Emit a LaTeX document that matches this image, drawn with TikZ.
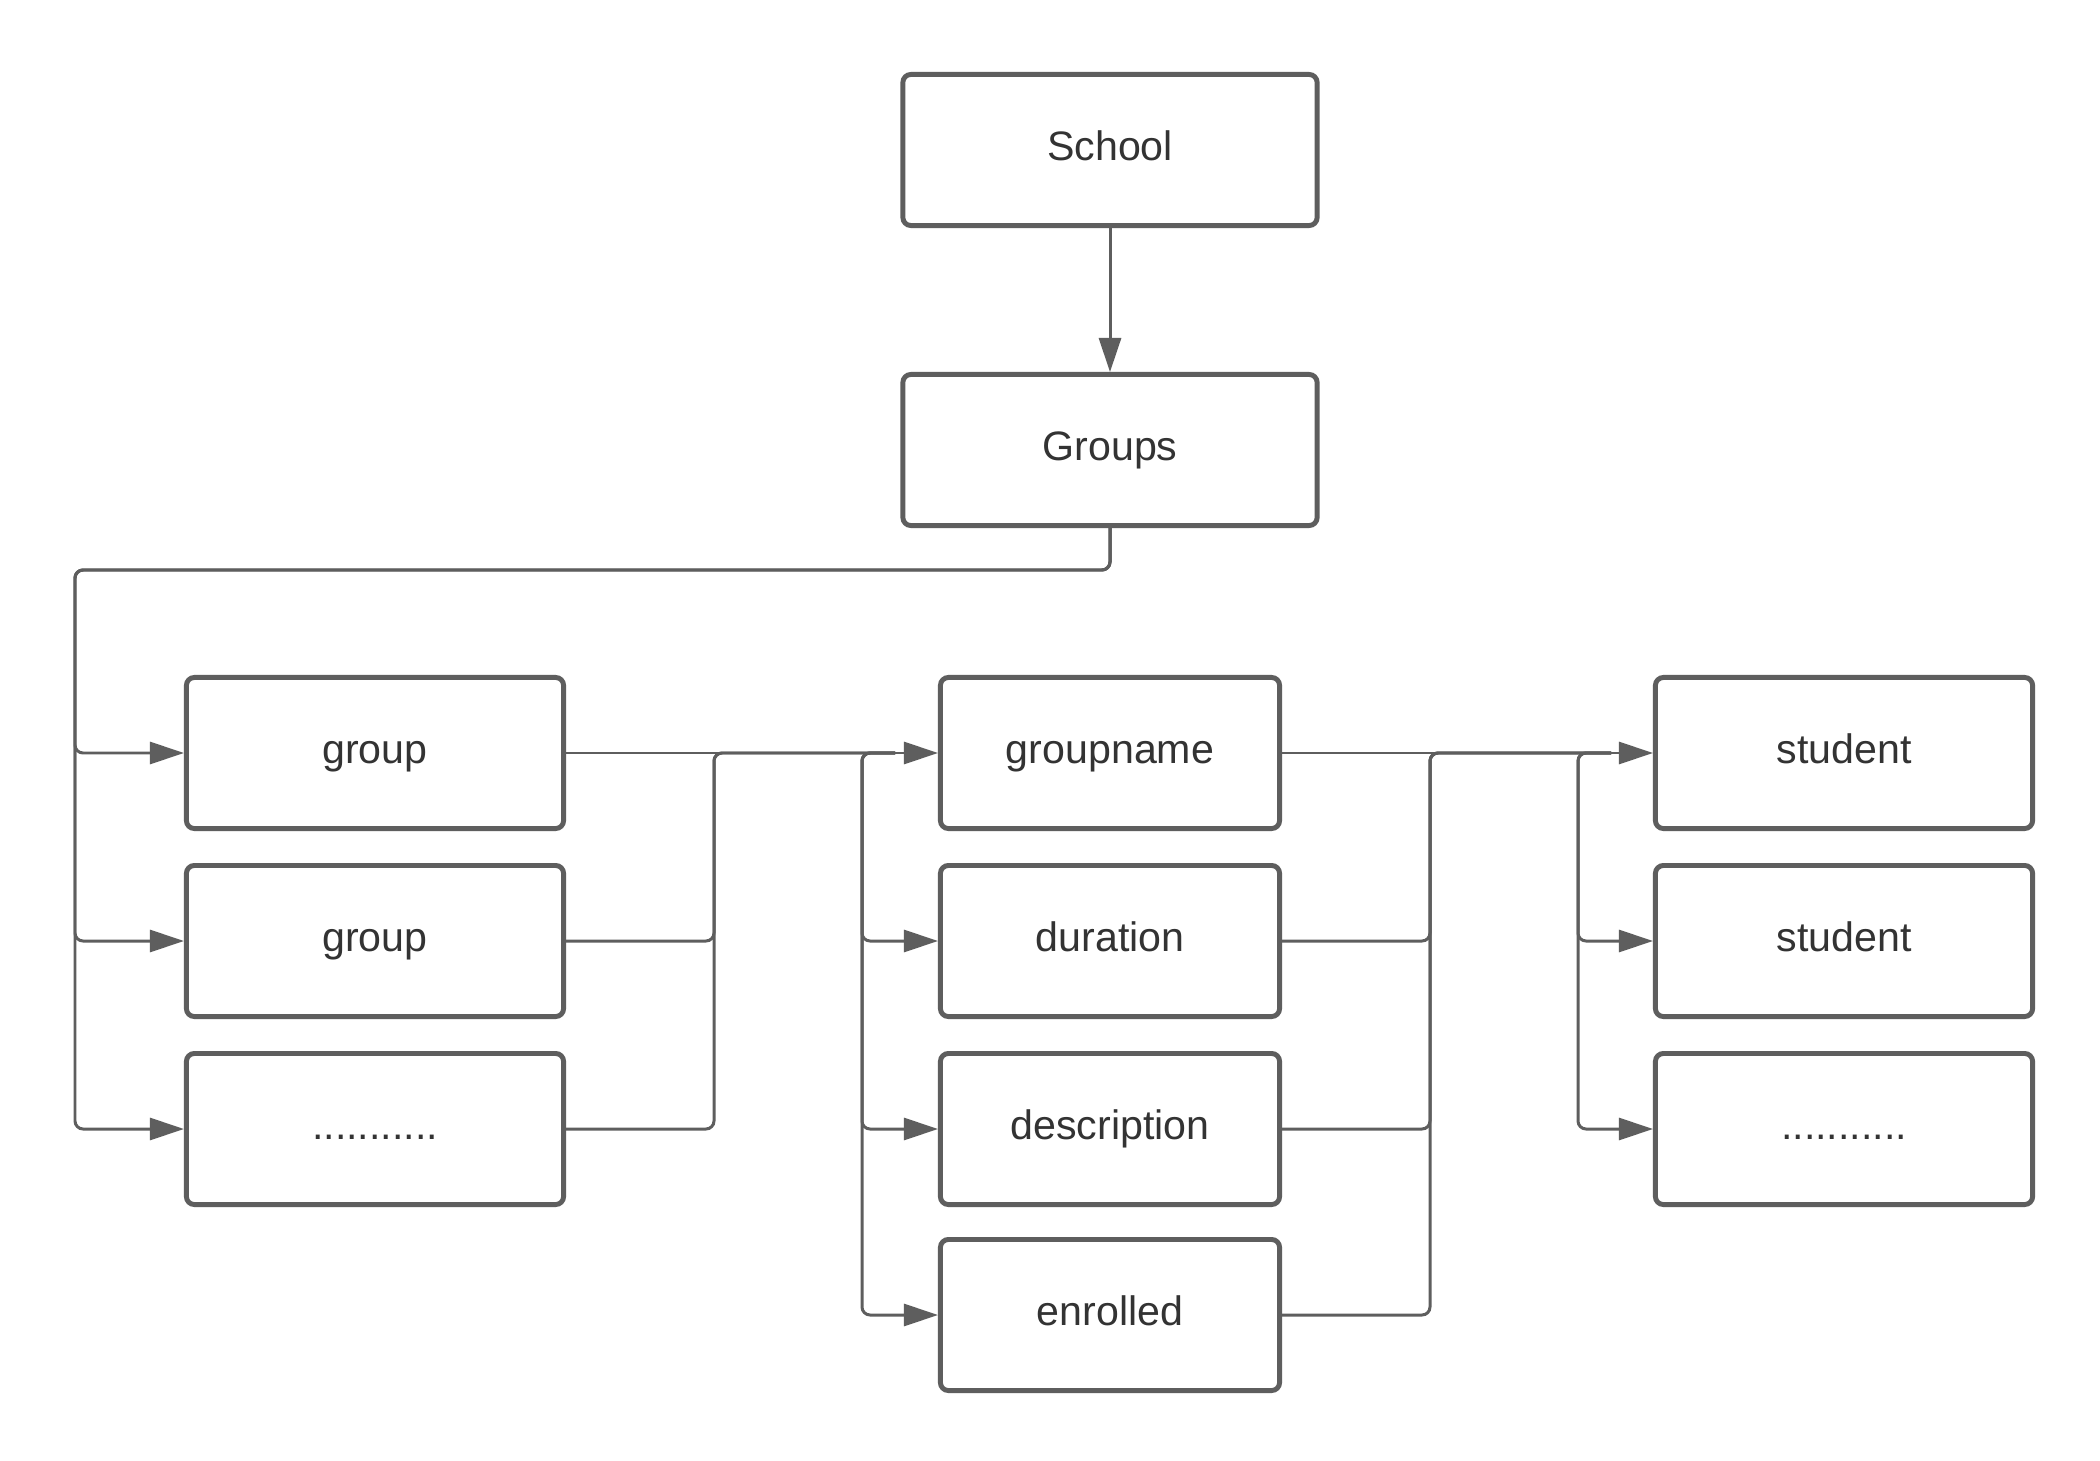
\documentclass[tikz,border=0pt]{standalone}
\usepackage{fontspec}
\setmainfont{Liberation Sans}
\usetikzlibrary{arrows.meta}
\definecolor{edge}{HTML}{5E5E5E}
\definecolor{ink}{HTML}{333333}
\begin{document}
\begin{tikzpicture}[x=0.01cm,y=-0.01cm,
  box/.style={draw=edge, line width=1.4pt, rounded corners=0.08cm, minimum height=1.51cm,
    text=ink, font=\fontsize{11.7}{14}\selectfont, text height=8.4pt, text depth=2.5pt, inner sep=0pt},
  wbox/.style={box, minimum width=3.77cm},
  mbox/.style={box, minimum width=3.39cm},
  tbox/.style={box, minimum width=4.14cm},
  conn/.style={draw=edge, line width=0.85pt, rounded corners=0.08cm},
  arr/.style={conn, -{Triangle[length=0.34cm,width=0.22cm]}}]
\useasboundingbox (0,0) rectangle (2100,1461);
\fill[white] (0,0) rectangle (2100,1461);

\node[tbox] (school) at (1110,150) {School};
\node[tbox] (groups) at (1110,450) {Groups};

\node[wbox] (g1) at (375,753) {group};
\node[wbox] (g2) at (375,941) {group};
\node[wbox] (g3) at (375,1129) {...........};

\node[mbox] (a1) at (1110,753) {groupname};
\node[mbox] (a2) at (1110,941) {duration};
\node[mbox] (a3) at (1110,1129) {description};
\node[mbox] (a4) at (1110,1315) {enrolled};

\node[wbox] (s1) at (1844,753) {student};
\node[wbox] (s2) at (1844,941) {student};
\node[wbox] (s3) at (1844,1129) {...........};

\coordinate (lb) at (75,570);
\coordinate (b1) at (714,753);
\coordinate (b2) at (862,753);
\coordinate (b2s) at (895,753);
\coordinate (b3) at (1430,753);
\coordinate (b4) at (1578,753);
\coordinate (b4s) at (1611,753);

\draw[arr] (school) -- (groups);

\draw[arr] (groups.south) |- (lb) |- (g1.west);
\draw[arr] (groups.south) |- (lb) |- (g2.west);
\draw[arr] (groups.south) |- (lb) |- (g3.west);

\draw[arr] (g1.east) -- (a1.west);
\draw[conn] (g2.east) -| (b1) -- (b2s);
\draw[conn] (g3.east) -| (b1) -- (b2s);
\draw[arr] (b2s) -| (b2 |- a2.west) -- (a2.west);
\draw[arr] (b2s) -| (b2 |- a3.west) -- (a3.west);
\draw[arr] (b2s) -| (b2 |- a4.west) -- (a4.west);

\draw[arr] (a1.east) -- (s1.west);
\draw[conn] (a2.east) -| (b3) -- (b4s);
\draw[conn] (a3.east) -| (b3) -- (b4s);
\draw[conn] (a4.east) -| (b3) -- (b4s);
\draw[arr] (b4s) -| (b4 |- s2.west) -- (s2.west);
\draw[arr] (b4s) -| (b4 |- s3.west) -- (s3.west);
\end{tikzpicture}
\end{document}
